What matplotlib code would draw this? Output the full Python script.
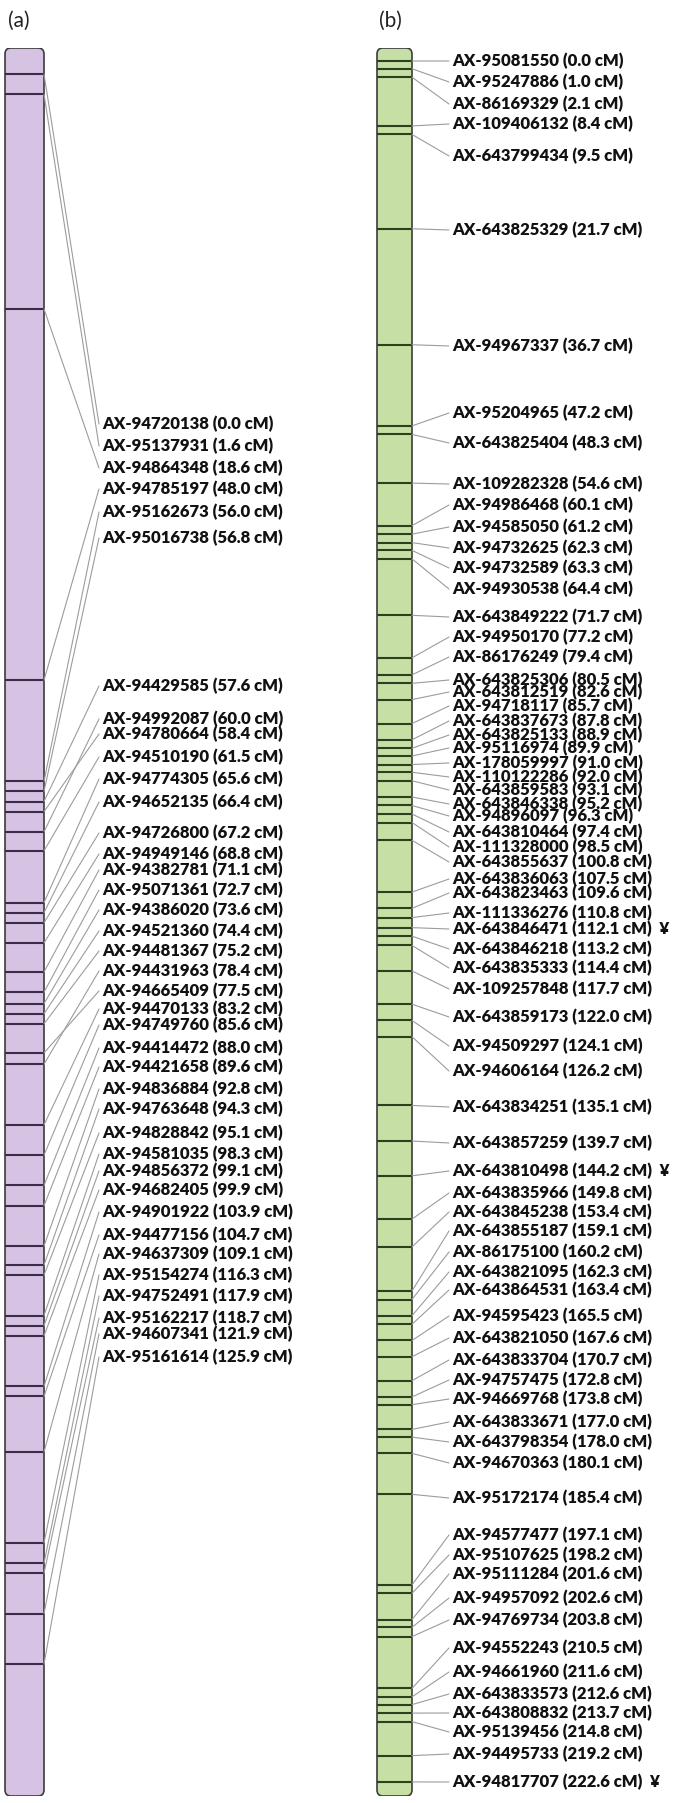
import matplotlib
matplotlib.use("Agg")
import matplotlib.pyplot as plt
from matplotlib.patches import FancyBboxPatch, ConnectionPatch

# ---- data: linkage group (a) ----
markers_a = ["AX-94720138", "AX-95137931", "AX-94864348", "AX-94785197", "AX-95162673",
             "AX-95016738", "AX-94429585", "AX-94992087", "AX-94780664", "AX-94510190",
             "AX-94774305", "AX-94652135", "AX-94726800", "AX-94949146", "AX-94382781",
             "AX-95071361", "AX-94386020", "AX-94521360", "AX-94481367", "AX-94431963",
             "AX-94665409", "AX-94470133", "AX-94749760", "AX-94414472", "AX-94421658",
             "AX-94836884", "AX-94763648", "AX-94828842", "AX-94581035", "AX-94856372",
             "AX-94682405", "AX-94901922", "AX-94477156", "AX-94637309", "AX-95154274",
             "AX-94752491", "AX-95162217", "AX-94607341", "AX-95161614"]
cm_a = [0.0, 1.6, 18.6, 48.0, 56.0, 56.8, 57.6, 60.0, 58.4, 61.5,
        65.6, 66.4, 67.2, 68.8, 71.1, 72.7, 73.6, 74.4, 75.2, 78.4,
        77.5, 83.2, 85.6, 88.0, 89.6, 92.8, 94.3, 95.1, 98.3, 99.1,
        99.9, 103.9, 104.7, 109.1, 116.3, 117.9, 118.7, 121.9, 125.9]

# ---- data: linkage group (b) ----
markers_b = ["AX-95081550", "AX-95247886", "AX-86169329", "AX-109406132", "AX-643799434",
             "AX-643825329", "AX-94967337", "AX-95204965", "AX-643825404", "AX-109282328",
             "AX-94986468", "AX-94585050", "AX-94732625", "AX-94732589", "AX-94930538",
             "AX-643849222", "AX-94950170", "AX-86176249", "AX-643825306", "AX-643812519",
             "AX-94718117", "AX-643837673", "AX-643825133", "AX-95116974", "AX-178059997",
             "AX-110122286", "AX-643859583", "AX-643846338", "AX-94896097", "AX-643810464",
             "AX-111328000", "AX-643855637", "AX-643836063", "AX-643823463", "AX-111336276",
             "AX-643846471", "AX-643846218", "AX-643835333", "AX-109257848", "AX-643859173",
             "AX-94509297", "AX-94606164", "AX-643834251", "AX-643857259", "AX-643810498",
             "AX-643835966", "AX-643845238", "AX-643855187", "AX-86175100", "AX-643821095",
             "AX-643864531", "AX-94595423", "AX-643821050", "AX-643833704", "AX-94757475",
             "AX-94669768", "AX-643833671", "AX-643798354", "AX-94670363", "AX-95172174",
             "AX-94577477", "AX-95107625", "AX-95111284", "AX-94957092", "AX-94769734",
             "AX-94552243", "AX-94661960", "AX-643833573", "AX-643808832", "AX-95139456",
             "AX-94495733", "AX-94817707"]
cm_b = [0.0, 1.0, 2.1, 8.4, 9.5, 21.7, 36.7, 47.2, 48.3, 54.6,
        60.1, 61.2, 62.3, 63.3, 64.4, 71.7, 77.2, 79.4, 80.5, 82.6,
        85.7, 87.8, 88.9, 89.9, 91.0, 92.0, 93.1, 95.2, 96.3, 97.4,
        98.5, 100.8, 107.5, 109.6, 110.8, 112.1, 113.2, 114.4, 117.7, 122.0,
        124.1, 126.2, 135.1, 139.7, 144.2, 149.8, 153.4, 159.1, 160.2, 162.3,
        163.4, 165.5, 167.6, 170.7, 172.8, 173.8, 177.0, 178.0, 180.1, 185.4,
        197.1, 198.2, 201.6, 202.6, 203.8, 210.5, 211.6, 212.6, 213.7, 214.8,
        219.2, 222.6]
flagged_b = ["AX-643846471", "AX-643810498", "AX-94817707"]

# ---- label layout (pixel rows of the label column) ----
label_y_a = [424, 446, 468, 489, 512, 538, 686, 719, 734, 757,
             779, 802, 833, 854, 870, 890, 910, 931, 951, 971,
             991, 1009, 1025, 1048, 1067, 1089, 1109, 1133, 1154, 1171,
             1190, 1212, 1235, 1254, 1275, 1296, 1318, 1334, 1357]
label_y_b = [61, 82, 104, 124, 156, 230, 346, 413, 443, 484,
             505, 527, 548, 568, 589, 617, 637, 657, 680, 692,
             706, 721, 735, 748, 763, 777, 790, 804, 816, 832,
             847, 862, 879, 893, 913, 929, 949, 968, 989, 1017,
             1046, 1071, 1107, 1143, 1171, 1193, 1212, 1231, 1252, 1272,
             1290, 1316, 1338, 1360, 1380, 1399, 1422, 1442, 1463, 1498,
             1535, 1555, 1574, 1598, 1620, 1648, 1672, 1694, 1713, 1732,
             1754, 1782]

W, H = 676, 1803
BAR_TOP, BAR_BOT = 48, 1796
FONT = "Lato"

fig = plt.figure(figsize=(W / 100, H / 100), dpi=100)
lay = fig.add_axes([0, 0, 1, 1])
lay.set_xlim(0, W)
lay.set_ylim(H, 0)
lay.axis("off")


def draw_map(names, cms, label_y, ylim, bar_x, bar_w, face, tick_col, label_x, flags):
    ax = fig.add_axes([0, 1 - BAR_BOT / H, 1, (BAR_BOT - BAR_TOP) / H])
    ax.set_xlim(0, W)
    ax.set_ylim(ylim)
    ax.axis("off")
    px_per_cm = (BAR_BOT - BAR_TOP) / (ylim[0] - ylim[1])
    bar = FancyBboxPatch((bar_x, ylim[1]), bar_w, ylim[0] - ylim[1],
                         boxstyle="round,pad=0,rounding_size=6",
                         mutation_aspect=1 / px_per_cm,
                         fc=face, ec="#3c3c3c", lw=1.2, zorder=1)
    ax.add_patch(bar)
    ax.hlines(cms, bar_x, bar_x + bar_w, color=tick_col, lw=1.5, zorder=2)
    for n, c, ly in zip(names, cms, label_y):
        con = ConnectionPatch(xyA=(bar_x + bar_w, c), coordsA=ax.transData,
                              xyB=(label_x - 3, ly), coordsB=lay.transData,
                              color="#9c9c9c", lw=0.8)
        fig.add_artist(con)
        txt = f"{n} ({c:.1f} cM)"
        if n in flags:
            txt += "  \u00a5"
        lay.text(label_x, ly, txt, va="center", ha="left", fontsize=12,
                 fontweight="heavy", family=FONT, color="#111111")


draw_map(markers_a, cm_a, label_y_a, (136.34, -2.06), 5, 39,
         "#d6c3e3", "#3b2c4a", 102, [])
draw_map(markers_b, cm_b, label_y_b, (224.42, -1.68), 377, 35,
         "#c5dfa5", "#2c4020", 452, flagged_b)

lay.text(8, 21, "(a)", fontsize=15, family=FONT, va="center", ha="left", color="#222222")
lay.text(379, 21, "(b)", fontsize=15, family=FONT, va="center", ha="left", color="#222222")

fig.savefig("out.png", dpi=100)
plt.close(fig)
